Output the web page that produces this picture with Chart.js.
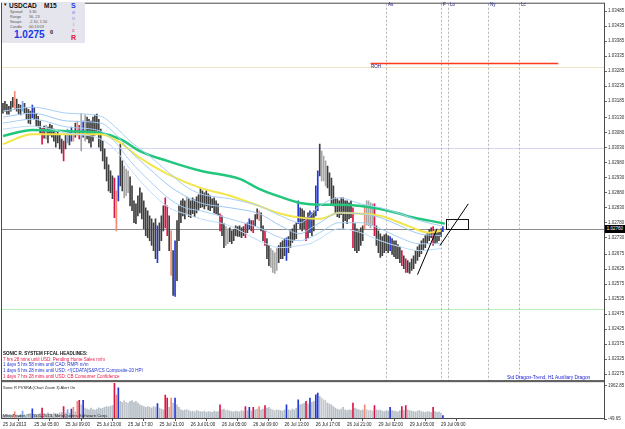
<!DOCTYPE html>
<html>
<head>
<meta charset="utf-8">
<script src="https://cdn.jsdelivr.net/npm/chart.js@4.4.0/dist/chart.umd.min.js"></script>
<style>
    html, body { margin: 0; padding: 0; background: #fff; }
    #wrap { position: relative; width: 625px; height: 429px; overflow: hidden; font-family: 'Liberation Sans', Arial, sans-serif; }
    #wrap canvas { position: absolute; left: 0; top: 0; }
    .t { position: absolute; white-space: nowrap; line-height: 1; }
    .box { position: absolute; left: 2px; top: 2px; width: 83px; height: 41px; background: #e5e5ed; }
</style>
</head>
<body>
<div id="wrap">
    <canvas id="chart" width="625" height="429"></canvas>
    <div class="box"></div>
</div>
<script>
// M15 bars, 25 Jul 2013 -> 29 Jul 2013 (bar index = position on the time axis)
const highs = [
    1.03178, 1.03185, 1.03175, 1.03168, 1.03185, 1.03198, 1.03218, 1.03192, 1.03175, 1.03172,
    1.03185, 1.03178, 1.03165, 1.03158, 1.03152, 1.03172, 1.03165, 1.03145, 1.03135, 1.03119,
    1.03095, 1.03102, 1.03105, 1.03099, 1.03109, 1.03105, 1.03092, 1.03079, 1.03085, 1.03072,
    1.03059, 1.03052, 1.03075, 1.03092, 1.03085, 1.03099, 1.03085, 1.03112, 1.03119, 1.03105,
    1.03145, 1.03119, 1.03139, 1.03132, 1.03125, 1.03119, 1.03132, 1.03139, 1.03142, 1.03125,
    1.03092, 1.03052, 1.03026, 1.02999, 1.02973, 1.02953, 1.02936, 1.02929, 1.02886, 1.02936,
    1.03042, 1.02986, 1.02969, 1.02959, 1.02953, 1.02933, 1.02903, 1.02853, 1.02843, 1.02870,
    1.02896, 1.02880, 1.02853, 1.02830, 1.02820, 1.02803, 1.02793, 1.02780, 1.02793, 1.02770,
    1.02780, 1.02803, 1.02836, 1.02863, 1.02836, 1.02803, 1.02753, 1.02687, 1.02720, 1.02787,
    1.02836, 1.02853, 1.02860, 1.02853, 1.02866, 1.02860, 1.02853, 1.02863, 1.02856, 1.02866,
    1.02873, 1.02896, 1.02886, 1.02880, 1.02886, 1.02876, 1.02870, 1.02860, 1.02863, 1.02853,
    1.02843, 1.02810, 1.02803, 1.02777, 1.02767, 1.02760, 1.02763, 1.02753, 1.02757, 1.02770,
    1.02767, 1.02770, 1.02763, 1.02767, 1.02777, 1.02780, 1.02793, 1.02787, 1.02787, 1.02807,
    1.02826, 1.02820, 1.02813, 1.02770, 1.02753, 1.02727, 1.02704, 1.02694, 1.02687, 1.02680,
    1.02694, 1.02704, 1.02714, 1.02720, 1.02727, 1.02730, 1.02734, 1.02753, 1.02760, 1.02773,
    1.02780, 1.02853, 1.02830, 1.02826, 1.02820, 1.02797, 1.02813, 1.02820, 1.02813, 1.02820,
    1.02903, 1.02953, 1.03042, 1.03019, 1.03002, 1.02986, 1.02969, 1.02946, 1.02929, 1.02903,
    1.02863, 1.02860, 1.02853, 1.02863, 1.02863, 1.02853, 1.02853, 1.02846, 1.02853, 1.02830,
    1.02777, 1.02760, 1.02753, 1.02763, 1.02770, 1.02836, 1.02853, 1.02853, 1.02846, 1.02843,
    1.02843, 1.02770, 1.02753, 1.02743, 1.02734, 1.02740, 1.02743, 1.02737, 1.02734, 1.02727,
    1.02720, 1.02720, 1.02707, 1.02700, 1.02687, 1.02670, 1.02660, 1.02654, 1.02647, 1.02660,
    1.02670, 1.02687, 1.02700, 1.02707, 1.02720, 1.02727, 1.02737, 1.02747, 1.02757, 1.02763,
    1.02767, 1.02753, 1.02747, 1.02753, 1.02760, 1.02767
];
const lows = [
    1.03145, 1.03152, 1.03142, 1.03142, 1.03152, 1.03165, 1.03158, 1.03152, 1.03142, 1.03139,
    1.03152, 1.03145, 1.03125, 1.03112, 1.03109, 1.03129, 1.03125, 1.03102, 1.03099, 1.03079,
    1.03042, 1.03062, 1.03059, 1.03046, 1.03072, 1.03065, 1.03052, 1.03032, 1.03046, 1.03026,
    1.03012, 1.02986, 1.03026, 1.03046, 1.03039, 1.03052, 1.03052, 1.03065, 1.03072, 1.03059,
    1.03019, 1.03065, 1.03052, 1.03059, 1.03046, 1.03032, 1.03052, 1.03072, 1.03085, 1.03032,
    1.03019, 1.02986, 1.02959, 1.02919, 1.02886, 1.02880, 1.02860, 1.02797, 1.02753, 1.02853,
    1.02903, 1.02886, 1.02863, 1.02870, 1.02880, 1.02836, 1.02820, 1.02780, 1.02777, 1.02803,
    1.02813, 1.02793, 1.02760, 1.02737, 1.02730, 1.02720, 1.02704, 1.02687, 1.02660, 1.02647,
    1.02687, 1.02720, 1.02753, 1.02763, 1.02737, 1.02687, 1.02604, 1.02538, 1.02534, 1.02587,
    1.02720, 1.02780, 1.02803, 1.02793, 1.02807, 1.02800, 1.02797, 1.02810, 1.02800, 1.02813,
    1.02820, 1.02830, 1.02833, 1.02826, 1.02836, 1.02823, 1.02820, 1.02830, 1.02813, 1.02810,
    1.02807, 1.02753, 1.02737, 1.02697, 1.02704, 1.02710, 1.02717, 1.02710, 1.02720, 1.02737,
    1.02734, 1.02734, 1.02730, 1.02737, 1.02730, 1.02747, 1.02760, 1.02753, 1.02747, 1.02770,
    1.02793, 1.02787, 1.02753, 1.02720, 1.02704, 1.02660, 1.02637, 1.02631, 1.02614, 1.02611,
    1.02621, 1.02647, 1.02660, 1.02660, 1.02670, 1.02654, 1.02680, 1.02697, 1.02714, 1.02720,
    1.02727, 1.02777, 1.02760, 1.02753, 1.02760, 1.02720, 1.02730, 1.02747, 1.02737, 1.02753,
    1.02803, 1.02820, 1.02936, 1.02919, 1.02919, 1.02903, 1.02896, 1.02870, 1.02843, 1.02836,
    1.02810, 1.02800, 1.02797, 1.02807, 1.02760, 1.02787, 1.02777, 1.02793, 1.02797, 1.02697,
    1.02687, 1.02680, 1.02687, 1.02704, 1.02720, 1.02760, 1.02773, 1.02770, 1.02763, 1.02770,
    1.02737, 1.02704, 1.02680, 1.02664, 1.02670, 1.02680, 1.02687, 1.02680, 1.02687, 1.02674,
    1.02667, 1.02660, 1.02660, 1.02647, 1.02637, 1.02627, 1.02614, 1.02614, 1.02611, 1.02621,
    1.02627, 1.02644, 1.02654, 1.02667, 1.02677, 1.02687, 1.02697, 1.02710, 1.02720, 1.02730,
    1.02704, 1.02710, 1.02714, 1.02720, 1.02734, 1.02750
];
// PVSRA candle class: d normal bear, g normal bull, r climax bear, b climax bull, p rising bear, c rising bull
const pvsraType = (
    'ddddddpddd' + 'cddddbdddd' + 'rdgddddddd' + 'drdcdbpdpr' + 'gbgddddddd' +
    'dddddddrpb' + 'ddgggddddd' + 'dddddddddb' + 'dddrrdpdbd' + 'ddddgddddd' +
    'dddddddddd' + 'drddggdddd' + 'ddddrdbdrd' + 'dpddrddggg' + 'gddddbdddd' +
    'dbdddrdbdd' + 'bbdgggdddd' + 'dddddddddr' + 'dddddpgggg' + 'rdddddddbd' +
    'ddddrdrddd' + 'dddddddddd' + 'rddddb'
).split('');
const volumes = [
    200, 150, 250, 180, 200, 220, 380, 200, 160, 180,
    420, 200, 220, 250, 280, 560, 250, 200, 230, 280,
    600, 280, 250, 320, 260, 230, 300, 280, 250, 320,
    350, 700, 320, 520, 300, 550, 650, 380, 1000, 1070,
    800, 1070, 600, 550, 500, 600, 520, 480, 550, 620,
    580, 600, 650, 700, 680, 720, 760, 2080, 1380, 1820,
    1000, 950, 1050, 950, 900, 1000, 1050, 950, 1000, 900,
    800, 750, 700, 650, 700, 650, 600, 700, 650, 880,
    600, 550, 500, 1380, 1200, 650, 1200, 900, 1200, 800,
    650, 500, 450, 480, 520, 450, 400, 420, 380, 450,
    420, 400, 380, 420, 350, 400, 380, 350, 420, 380,
    400, 800, 500, 550, 450, 480, 420, 400, 380, 420,
    400, 380, 450, 420, 700, 450, 650, 420, 650, 500,
    550, 700, 500, 550, 750, 600, 650, 550, 500, 450,
    500, 480, 450, 420, 500, 800, 500, 450, 550, 500,
    600, 1100, 800, 850, 900, 1000, 850, 1200, 950, 1000,
    1400, 1500, 1300, 1200, 1100, 1050, 900, 850, 800, 700,
    600, 550, 500, 550, 650, 500, 450, 500, 480, 900,
    600, 550, 500, 450, 500, 800, 500, 450, 480, 420,
    750, 500, 450, 480, 420, 400, 450, 420, 650, 450,
    420, 400, 380, 450, 700, 450, 750, 500, 450, 420,
    400, 380, 420, 450, 400, 380, 350, 400, 380, 350,
    650, 400, 350, 380, 300, 150
];

// Moving averages as [bar index, price]
const trendEma = [[0, 1.03069], [15, 1.03089], [33, 1.03085], [50, 1.03079], [60, 1.03059], [70, 1.03019],
    [84, 1.02986], [101, 1.02953], [121, 1.02926], [131, 1.02893], [142, 1.02866], [152, 1.02846],
    [162, 1.02840], [172, 1.02840], [183, 1.02836], [193, 1.02826], [203, 1.02810], [208, 1.02800],
    [218, 1.02787], [226, 1.02777]];
const slowEma = [[0, 1.03042], [15, 1.03075], [33, 1.03075], [50, 1.03075], [60, 1.03046], [70, 1.02996],
    [84, 1.02943], [101, 1.02896], [116, 1.02870], [131, 1.02836], [142, 1.02810], [152, 1.02797],
    [162, 1.02793], [172, 1.02813], [183, 1.02810], [193, 1.02803], [203, 1.02780], [208, 1.02767],
    [218, 1.02747], [224, 1.02753]];
const dragonIdx = [0, 15, 33, 50, 57, 65, 75, 85, 93, 101, 116, 131, 142, 152, 157, 162, 172, 183, 193, 203, 213, 224];
const dragonHigh = [1.03152, 1.03165, 1.03145, 1.03135, 1.03102, 1.03052, 1.03002, 1.02946, 1.02903, 1.02876, 1.02860,
    1.02836, 1.02803, 1.02780, 1.02803, 1.02836, 1.02863, 1.02843, 1.02830, 1.02810, 1.02787, 1.02770];
const dragonMid = [1.03132, 1.03145, 1.03119, 1.03112, 1.03079, 1.03019, 1.02959, 1.02903, 1.02870, 1.02846, 1.02830,
    1.02810, 1.02770, 1.02743, 1.02760, 1.02780, 1.02813, 1.02810, 1.02797, 1.02770, 1.02743, 1.02737];
const dragonLow = [1.03112, 1.03125, 1.03099, 1.03085, 1.03052, 1.02986, 1.02919, 1.02860, 1.02830, 1.02820, 1.02793,
    1.02763, 1.02730, 1.02720, 1.02730, 1.02747, 1.02780, 1.02780, 1.02760, 1.02730, 1.02710, 1.02710];
const auxDragon = [1.03092, 1.03102, 1.03079, 1.03059, 1.03026, 1.02959, 1.02886, 1.02830, 1.02810, 1.02793, 1.02770,
    1.02720, 1.02697, 1.02704, 1.02710, 1.02727, 1.02760, 1.02747, 1.02720, 1.02700, 1.02687, 1.02694];

// hand drawn objects: [bar index, price]
const trendLineA = [[212, 1.02607], [222, 1.02760]];
const trendLineB = [[223.5, 1.02704], [238, 1.02843]];
const zoneBox = [[226.6, 1.02793], [238, 1.02760]];

// levels
const currentPrice = 1.02760;
const levelPrices = [1.03298, 1.03029, 1.02760, 1.02494];
const rohLevel = 1.03311;
const rohRange = [188, 284];
const sessionIdx = [196, 224, 227.5, 248, 264];
const sessionNames = ['As', 'F', 'Lo', 'Ny', 'Lc'];

// axes
const priceTicks = [1.02275, 1.02325, 1.02375, 1.02425, 1.02475, 1.02525, 1.02575, 1.02625, 1.02675,
    1.02730, 1.02780, 1.02830, 1.02880, 1.02930, 1.02980, 1.03030, 1.03080, 1.03130, 1.03185,
    1.03235, 1.03285, 1.03335, 1.03385, 1.03435, 1.03485];
const volumeTicks = [-49.65, 1962.85];
const timeIdx = [0, 16, 32, 48, 64, 80, 96, 112, 128, 144, 160, 176, 192, 208, 224];
const timeLabels = ['25 Jul 2013', '25 Jul 05:00', '25 Jul 09:00', '25 Jul 13:00', '25 Jul 17:00', '25 Jul 21:00',
    '26 Jul 01:00', '26 Jul 05:00', '26 Jul 09:00', '26 Jul 13:00', '26 Jul 17:00', '26 Jul 21:00',
    '29 Jul 02:00', '29 Jul 05:00', '29 Jul 09:00'];

const candleColour = { d: '#3e3e3e', g: '#a6a6a6', r: '#dc1446', b: '#2038d8', p: '#f28a76', c: '#74a8f0' };
const volumeColour = { d: '#b6bec6', g: '#c4c8cc', r: '#dc1446', b: '#2038d8', p: '#f28a76', c: '#74a8f0' };

const toPoints = pairs => pairs.map(([i, v]) => ({ x: i, y: v }));
const zipPoints = (idx, vals) => idx.map((i, k) => ({ x: i, y: vals[k] }));

function lineSet(data, colour, width) {
    return {
        type: 'line', data, yAxisID: 'y', borderColor: colour, borderWidth: width,
        pointRadius: 0, tension: 0.4, cubicInterpolationMode: 'monotone', order: 1
    };
}

// Level lines, session lines, frame, box
const chartDecor = {
    id: 'chartDecor',
    beforeDatasetsDraw(chart) {
        const { ctx, chartArea: ca, scales: { x, y } } = chart;
        ctx.save();
        const levelColours = ['#ebe5c6', '#d6d6f4', '#8e8e8e', '#b6eeb6'];
        levelPrices.forEach((p, k) => {
            const py = Math.round(y.getPixelForValue(p)) + 0.5;
            ctx.strokeStyle = levelColours[k];
            ctx.lineWidth = 1;
            ctx.beginPath();
            ctx.moveTo(ca.left, py);
            ctx.lineTo(ca.right, py);
            ctx.stroke();
        });
        // sessions
        ctx.setLineDash([2, 2]);
        ctx.strokeStyle = '#b4b4b4';
        sessionIdx.forEach(i => {
            const px = Math.round(x.getPixelForValue(i)) + 0.5;
            ctx.beginPath();
            ctx.moveTo(px, y.top);
            ctx.lineTo(px, y.bottom);
            ctx.stroke();
        });
        ctx.setLineDash([]);
        // ROH
        const ry = y.getPixelForValue(rohLevel);
        ctx.strokeStyle = '#ff3a1c';
        ctx.lineWidth = 1.5;
        ctx.beginPath();
        ctx.moveTo(x.getPixelForValue(rohRange[0]), ry);
        ctx.lineTo(x.getPixelForValue(rohRange[1]), ry);
        ctx.stroke();
        ctx.restore();
    },
    afterDatasetsDraw(chart) {
        const { ctx, chartArea: ca, scales: { x, y, yv } } = chart;
        ctx.save();
        ctx.strokeStyle = '#111';
        ctx.lineWidth = 1;
        const x0 = x.getPixelForValue(zoneBox[0][0]), x1 = x.getPixelForValue(zoneBox[1][0]);
        const y0 = y.getPixelForValue(zoneBox[0][1]), y1 = y.getPixelForValue(zoneBox[1][1]);
        ctx.strokeRect(Math.round(x0) + 0.5, Math.round(y0) + 0.5, Math.round(x1 - x0), Math.round(y1 - y0));
        // panel frames
        ctx.strokeStyle = '#4a4a4a';
        ctx.strokeRect(ca.left - 0.5, y.top - 0.5, ca.right - ca.left + 1, y.bottom - y.top);
        ctx.strokeRect(ca.left - 0.5, yv.top + 0.5, ca.right - ca.left + 1, yv.bottom - yv.top - 1);
        ctx.restore();
    }
};

const smallFont = { family: 'Liberation Sans', size: 4.5 };

const chart = new Chart(document.getElementById('chart'), {
    type: 'bar',
    data: {
        datasets: [
            {
                type: 'bar', label: 'USDCAD',
                data: highs.map((h, i) => ({ x: i, y: [lows[i], h] })),
                backgroundColor: pvsraType.map(t => candleColour[t]),
                barThickness: 1, grouped: false, borderWidth: 0, yAxisID: 'y', order: 5
            },
            {
                type: 'bar', label: 'PVSRA',
                data: volumes.map((v, i) => ({ x: i, y: v })),
                backgroundColor: pvsraType.map(t => volumeColour[t]),
                barThickness: 1, grouped: false, borderWidth: 0, yAxisID: 'yv', order: 6
            },
            lineSet(zipPoints(dragonIdx, auxDragon), '#bcdcfa', 1),
            lineSet(zipPoints(dragonIdx, dragonLow), '#a6cff6', 1),
            lineSet(zipPoints(dragonIdx, dragonMid), '#9cc8f4', 1),
            lineSet(zipPoints(dragonIdx, dragonHigh), '#a6cff6', 1),
            lineSet(toPoints(slowEma), '#f3e54a', 2),
            lineSet(toPoints(trendEma), '#22c67c', 2.5),
            { type: 'line', data: toPoints(trendLineA), yAxisID: 'y', borderColor: '#000', borderWidth: 1, pointRadius: 0, order: 0 },
            { type: 'line', data: toPoints(trendLineB), yAxisID: 'y', borderColor: '#000', borderWidth: 1, pointRadius: 0, order: 0 }
        ]
    },
    options: {
        responsive: false,
        animation: false,
        devicePixelRatio: 1,
        events: [],
        layout: { padding: { left: 2, top: 2, right: 0, bottom: 0 } },
        plugins: { legend: { display: false }, tooltip: { enabled: false } },
        scales: {
            x: {
                type: 'linear', min: -0.51, max: 307.4, offset: false,
                grid: { drawOnChartArea: false, tickLength: 2, color: '#555' },
                border: { display: false },
                afterBuildTicks: s => { s.ticks = timeIdx.map(v => ({ value: v })); },
                afterFit: s => { s.height = 10; },
                ticks: {
                    autoSkip: false, maxRotation: 0, align: 'start', padding: 1, font: smallFont, color: '#222',
                    callback: (v, i) => timeLabels[i]
                }
            },
            y: {
                position: 'right', stack: 'panels', stackWeight: 379,
                min: 1.02252, max: 1.03510,
                grid: { drawOnChartArea: false, tickLength: 3, color: '#666' },
                border: { display: true, color: '#444' },
                afterBuildTicks: s => { s.ticks = priceTicks.map(v => ({ value: v })); },
                afterFit: s => { s.width = 21; },
                ticks: { autoSkip: false, padding: 1, font: smallFont, color: '#333', callback: v => v.toFixed(5) }
            },
            yv: {
                position: 'right', stack: 'panels', stackWeight: 38,
                min: -49.65, max: 2214,
                grid: { drawOnChartArea: false, tickLength: 3, color: '#666' },
                border: { display: true, color: '#444' },
                afterBuildTicks: s => { s.ticks = volumeTicks.map(v => ({ value: v })); },
                afterFit: s => { s.width = 21; },
                ticks: { autoSkip: false, padding: 1, font: smallFont, color: '#333', callback: v => v.toFixed(2) }
            }
        }
    },
    plugins: [chartDecor]
});

// Text overlays
const wrap = document.getElementById('wrap');
function addText(text, left, top, size, colour, extra) {
    const el = document.createElement('div');
    el.className = 't';
    el.textContent = text;
    el.style.left = left + 'px';
    el.style.top = top + 'px';
    el.style.fontSize = size + 'px';
    el.style.color = colour;
    if (extra) Object.assign(el.style, extra);
    wrap.appendChild(el);
    return el;
}
const bold = { fontWeight: 'bold' };

// info panel
addText('\u25BC', 3, 3, 4.5, '#111');
addText('USDCAD', 9, 2.5, 6.5, '#111', bold);
addText('M15', 44, 2.5, 6.5, '#111', bold);
[['Spread', '3.30'], ['Range', '56, 23'], ['Swaps', '-2.10, 1.50'], ['Candle', '00:13:03']].forEach(([k, v], n) => {
    addText(k, 10, 11 + n * 5, 3.8, '#555');
    addText(v, 29, 11 + n * 5, 3.8, '#555');
});
addText('1.0275', 14, 29.5, 10, '#1a3ae8', bold);
addText('0', 50, 30, 5.5, '#111', bold);
addText('S', 71, 2, 7, '#1a3ae8', bold);
addText('o', 72, 10, 5, '#7d8cf0', bold);
addText('n', 72, 16, 5, '#a9b0dc', bold);
addText('i', 73, 22, 5, '#e890b0', bold);
addText('c', 72, 28, 5, '#e06a90', bold);
addText('R', 71, 34, 7, '#e0143c', bold);

// headlines
addText('SONIC R. SYSTEM  FFCAL HEADLINES:', 3, 351.5, 4.5, '#111', bold);
addText('7 hrs 28 mins until USD: Pending Home Sales m/m', 3, 357.5, 4.5, '#e8184a');
addText('1 days 5 hrs 58 mins until CAD: RMPI m/m', 3, 363, 4.5, '#2233cc');
addText('1 days 6 hrs 28 mins until USD: \u003C![CDATA[S&P/CS Composite-20 HPI', 3, 369, 4.5, '#2233cc');
addText('1 days 7 hrs 28 mins until USD: CB Consumer Confidence', 3, 374.5, 4.5, '#e8184a');
addText('Std Dragon-Trend, H1 Auxiliary Dragon', 507, 375.5, 4.8, '#1a1ad0');

// volume panel
addText('Sonic R PVSRA  (Chart Zoom 3)  Alert On', 3, 386, 4, '#222');
addText('MetaTrader, \u00A9 2001-2013, MetaQuotes Software Corp.', 3, 414, 4.3, '#222');

// scale-positioned labels
const sx = chart.scales.x, sy = chart.scales.y;
sessionIdx.forEach((i, k) => addText(sessionNames[k], Math.round(sx.getPixelForValue(i)) + 2, 3, 4.5, '#202080'));
addText('ROH', Math.round(sx.getPixelForValue(rohRange[0])), Math.round(sy.getPixelForValue(levelPrices[0])) - 2.5, 4.5, '#202080');
addText(currentPrice.toFixed(5), 605, Math.round(sy.getPixelForValue(currentPrice)) - 4, 4.5, '#fff', {
    background: '#000', width: '20px', height: '8px', lineHeight: '8px', textAlign: 'center'
});
</script>
</body>
</html>
